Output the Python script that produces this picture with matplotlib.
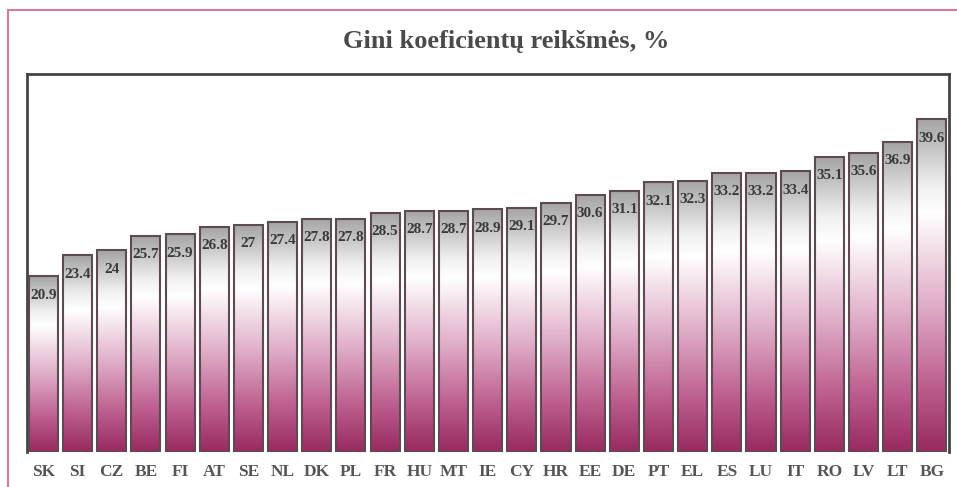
import numpy as np
import matplotlib.pyplot as plt
from matplotlib.colors import LinearSegmentedColormap
from matplotlib.lines import Line2D

countries = ["SK", "SI", "CZ", "BE", "FI", "AT", "SE", "NL", "DK", "PL", "FR", "HU", "MT",
             "IE", "CY", "HR", "EE", "DE", "PT", "EL", "ES", "LU", "IT", "RO", "LV", "LT", "BG"]
gini = [20.9, 23.4, 24, 25.7, 25.9, 26.8, 27, 27.4, 27.8, 27.8, 28.5, 28.7, 28.7,
        28.9, 29.1, 29.7, 30.6, 31.1, 32.1, 32.3, 33.2, 33.2, 33.4, 35.1, 35.6, 36.9, 39.6]
labels = ["20.9", "23.4", "24", "25.7", "25.9", "26.8", "27", "27.4", "27.8", "27.8", "28.5",
          "28.7", "28.7", "28.9", "29.1", "29.7", "30.6", "31.1", "32.1", "32.3", "33.2",
          "33.2", "33.4", "35.1", "35.6", "36.9", "39.6"]

plt.rcParams['font.family'] = ['Liberation Serif', 'DejaVu Serif']

grad = LinearSegmentedColormap.from_list("gini", [
    (0.0, "#982a60"), (0.2, "#bd5f8f"), (0.45, "#e0afc8"), (0.72, "#ffffff"),
    (0.8, "#f0f0f0"), (1.0, "#a4a4a4")])

fig = plt.figure(figsize=(9.57, 4.87), dpi=100)
ax = fig.add_axes([0.0282, 0.0719, 0.9634, 0.776])

x = np.arange(len(countries))
bars = ax.bar(x, gini, width=0.85, facecolor="none", edgecolor="#5e4a52", linewidth=1.5, zorder=3)

# vertical gradient fill, stretched over each bar and clipped to it
g = np.linspace(0, 1, 512).reshape(-1, 1)
for b in bars:
    x0, w, h = b.get_x(), b.get_width(), b.get_height()
    im = ax.imshow(g, cmap=grad, origin="lower", aspect="auto", interpolation="bilinear",
                   extent=(x0, x0 + w, 0, h), zorder=2)
    im.set_clip_path(b)

for xi, v, lab in zip(x, gini, labels):
    ax.annotate(lab, (xi, v), xytext=(0, -13.5), textcoords="offset points",
                ha="center", va="center", fontsize=11, fontweight="bold", color="#3a3a3a")

ax.set_xlim(-0.48, 26.5)
ax.set_ylim(0, 45)
ax.set_xticks(x)
ax.set_xticklabels(countries, fontsize=12.5, fontweight="bold", color="#555555")
ax.tick_params(axis="x", length=0, pad=9)
ax.set_yticks([])
for s in ["left", "top", "right"]:
    ax.spines[s].set_color("#444444")
    ax.spines[s].set_linewidth(2)
ax.spines["bottom"].set_visible(False)

fig.text(0.529, 0.914, "Gini koeficientų reikšmės, %", ha="center", va="center",
         fontsize=19, fontweight="bold", color="#4a4a4a")

# pink frame around the chart (top and left edges visible)
fig.add_artist(Line2D([0.0084, 1.0], [0.979, 0.979], color="#d27ca2", lw=1.5))
fig.add_artist(Line2D([0.0084, 0.0084], [0.0, 0.979], color="#d27ca2", lw=1.5))

fig.savefig("out.png", dpi=100)
